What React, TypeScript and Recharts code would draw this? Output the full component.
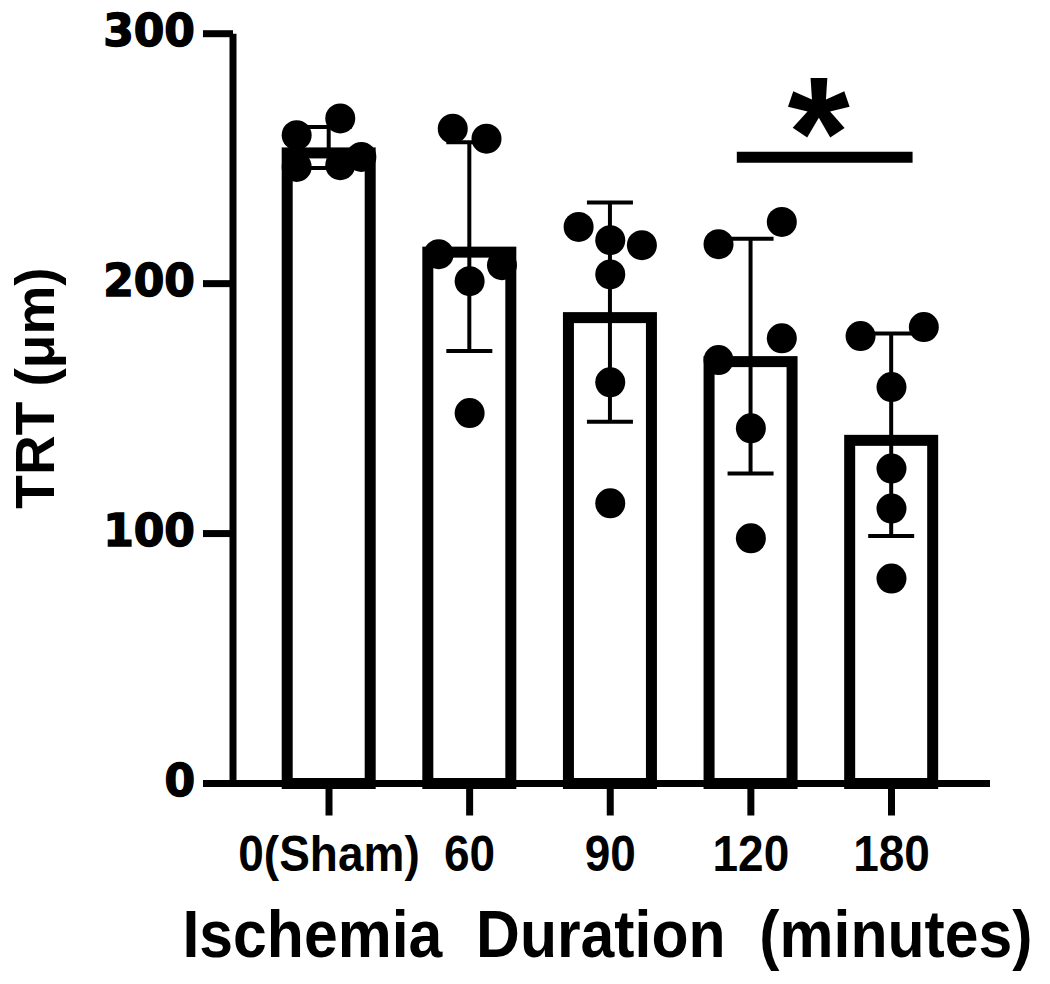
import React from 'react'
import { ComposedChart, Bar, ErrorBar, Scatter, XAxis, YAxis, ReferenceLine } from 'recharts'

const groups = ['0(Sham)', '60', '90', '120', '180']
const means = [254.5, 214.8, 188.6, 171, 139.5]
const sds = [8.2, 41.8, 43.9, 47, 40.5]

// individual animals per group
const shamPoints = [259.4, 266.1, 246.7, 247.4, 250.7]
const min60Points = [262, 258, 211.8, 207.4, 201, 148.2]
const min90Points = [222.7, 217.4, 215.4, 203.7, 160.5, 112.1]
const min120Points = [215.8, 224.7, 169.4, 178.1, 142.1, 98.1]
const min180Points = [179, 182.6, 158.6, 126, 110, 82]

// horizontal spread of the dots, in category units
const shamJitter = [-0.23, 0.08, -0.23, 0.08, 0.23]
const min60Jitter = [-0.12, 0.12, -0.22, 0.23, 0, 0]
const min90Jitter = [-0.225, 0, 0.225, 0, 0, 0]
const min120Jitter = [-0.23, 0.22, -0.23, 0.22, 0, 0]
const min180Jitter = [-0.22, 0.23, 0, 0, 0, 0]

const yTicks = [0, 100, 200, 300]

// significance bracket 120 vs 180
const sigFrom = 2.9
const sigTo = 4.15
const sigY = 250.6

const allPoints = [shamPoints, min60Points, min90Points, min120Points, min180Points]
const allJitter = [shamJitter, min60Jitter, min90Jitter, min120Jitter, min180Jitter]

const FONT = '"Liberation Sans", Arial, sans-serif'
const SW = 11

function BarOutline(props: any) {
  const { x, y, width, height } = props
  return (
    <rect
      x={x + SW / 2}
      y={y + SW / 2}
      width={width - SW}
      height={height - SW / 2}
      fill="#fff"
      stroke="#000"
      strokeWidth={SW}
    />
  )
}

function Dot(props: any) {
  return <circle cx={props.cx} cy={props.cy} r={15} fill="#000" />
}

// condensed bold text, like the narrow font of the original figure
function NarrowText({ x, y, size, sx, children }: any) {
  return (
    <g transform={`translate(${x},${y}) scale(${sx},1)`}>
      <text x={0} y={0} textAnchor="middle" fontFamily={FONT} fontWeight="bold" fontSize={size} fill="#000" style={{ whiteSpace: 'pre' }}>
        {children}
      </text>
    </g>
  )
}

function XTick(props: any) {
  const { x, y, payload } = props
  return (
    <NarrowText x={x} y={y + 55} size={50} sx={0.92}>
      {payload.value}
    </NarrowText>
  )
}

function YTick(props: any) {
  const { x, y, payload } = props
  return (
    <g transform={`translate(${x},${y + 12}) scale(1.0,1)`}>
      <text
        x={0}
        y={0}
        textAnchor="end"
        fontFamily='"DejaVu Sans", sans-serif'
        fontWeight="bold"
        fontSize={44}
        fill="#000"
        stroke="#000"
        strokeWidth={1.4}
      >
        {payload.value}
      </text>
    </g>
  )
}

export default function App() {
  const barData = groups.map((name, i) => ({ name, mean: means[i], sd: sds[i] }))
  const dots = allPoints.flatMap((pts, g) => pts.map((v, k) => ({ x: g + allJitter[g][k], y: v })))

  return (
    <div style={{ position: 'absolute', left: 0, top: 0, background: '#fff' }}>
      <ComposedChart
        width={1050}
        height={984}
        data={barData}
        margin={{ top: 33.7, right: 60, bottom: 80.5, left: 0 }}
      >
        <XAxis
          xAxisId="cat"
          dataKey="name"
          interval={0}
          padding={{ left: 25.7, right: 28.2 }}
          height={120}
          tickSize={32}
          tickMargin={0}
          axisLine={{ stroke: '#000', strokeWidth: 7 }}
          tickLine={{ stroke: '#000', strokeWidth: 7 }}
          tick={<XTick />}
          label={(p: any) => {
            const vb = p.viewBox
            return (
              <NarrowText x={vb.x + vb.width / 2 - 4} y={957} size={66} sx={0.92}>
                {'Ischemia  Duration  (minutes)'}
              </NarrowText>
            )
          }}
        />
        <XAxis
          xAxisId="num"
          dataKey="x"
          type="number"
          domain={[-0.5, 4.5]}
          allowDataOverflow
          padding={{ left: 25.7, right: 28.2 }}
          hide
        />
        <YAxis
          domain={[0, 300]}
          ticks={yTicks}
          width={233}
          tickSize={30}
          tickMargin={8}
          axisLine={{ stroke: '#000', strokeWidth: 7 }}
          tickLine={{ stroke: '#000', strokeWidth: 7 }}
          tick={<YTick />}
          label={() => (
            <text
              x={54}
              y={388}
              transform="rotate(-90, 54, 388)"
              textAnchor="middle"
              fontFamily={FONT}
              fontWeight="bold"
              fontSize={55}
              fill="#000"
            >
              TRT (μm)
            </text>
          )}
        />
        <Bar xAxisId="cat" dataKey="mean" barSize={94} shape={<BarOutline />} isAnimationActive={false}>
          <ErrorBar dataKey="sd" width={23} strokeWidth={4} stroke="#000" />
        </Bar>
        <Scatter xAxisId="num" data={dots} dataKey="y" shape={<Dot />} isAnimationActive={false} />
        <ReferenceLine
          xAxisId="num"
          segment={[{ x: sigFrom, y: sigY }, { x: sigTo, y: sigY }]}
          stroke="#000"
          strokeWidth={11}
          label={(p: any) => {
            const vb = p.viewBox || {}
            const cx = (vb.x ?? 0) + (vb.width ?? 0) / 2
            const cy = vb.y ?? 0
            return (
              <text x={cx - 6} y={cy + 31} textAnchor="middle" fontFamily={FONT} fontWeight="bold" fontSize={160} fill="#000">
                *
              </text>
            )
          }}
        />
      </ComposedChart>
    </div>
  )
}
